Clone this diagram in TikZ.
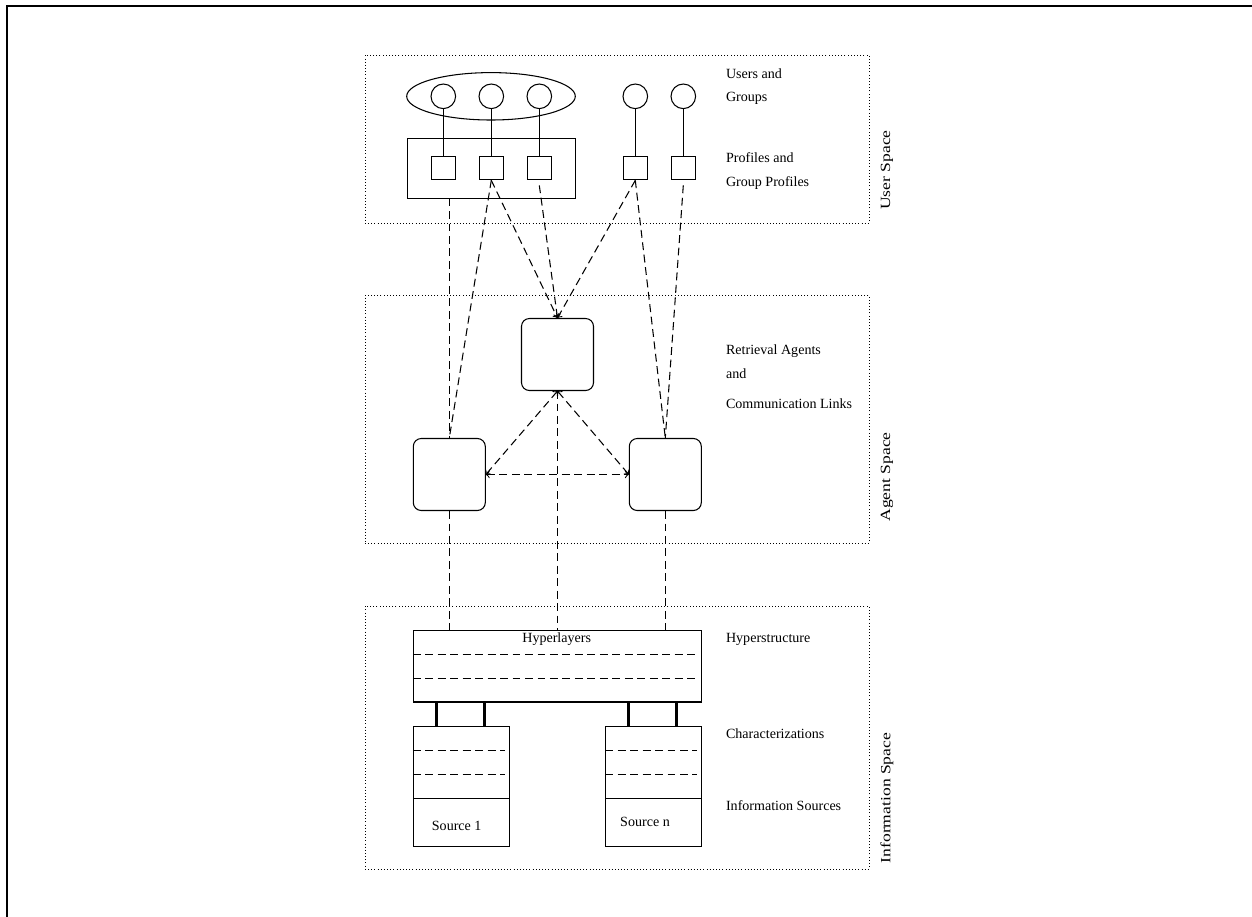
\documentclass[tikz,border=0pt]{standalone}
\usepackage{fontspec}
\setmainfont{Liberation Serif}
\usetikzlibrary{shapes.geometric,calc}
\newcommand\pxu{0.02cm}
\newcommand\sidetext[1]{\scalebox{1.25}[1]{#1}}
\begin{document}
\begin{tikzpicture}[x=0.02cm,y=-0.02cm,
  thin line/.style={line width=0.6pt},
  region/.style={draw,line width=0.5pt,dash pattern=on 0.5pt off 1.3pt,inner sep=0pt},
  person/.style={draw,thin line,circle,minimum size=24.6*\pxu,inner sep=0pt},
  profile/.style={draw,thin line,rectangle,minimum width=24*\pxu,minimum height=23*\pxu,inner sep=0pt},
  agent/.style={draw,thin line,rectangle,rounded corners=4.5pt,minimum width=72*\pxu,minimum height=72*\pxu,inner sep=0pt},
  plainbox/.style={draw,thin line,rectangle,inner sep=0pt},
  link/.style={thin line,dash pattern=on 4.5pt off 2.6pt},
  layer/.style={thin line,dash pattern=on 4.5pt off 2.6pt},
  bar/.style={line width=1.8pt},
  lbl/.style={anchor=base west,inner sep=0pt,font=\fontsize{8}{9.6}\selectfont},
  txt/.style={anchor=base,inner sep=0pt,font=\fontsize{8}{9.6}\selectfont},
  side/.style={rotate=90,inner sep=0pt,font=\fontsize{8}{9.6}\selectfont}
]
\useasboundingbox (0,0) rectangle (1252,917);
% frame
\draw[line width=1.5pt] (7,917) -- (7,6) -- (1252,6);

% regions
\node[region,minimum width=504*\pxu,minimum height=168*\pxu] (userspace) at (617,139) {};
\node[region,minimum width=504*\pxu,minimum height=248*\pxu] (agentspace) at (617,419) {};
\node[region,minimum width=504*\pxu,minimum height=263*\pxu] (infospace) at (617,737.5) {};

\node[side] (luser) at (887,170) {\sidetext{User Space}};
\node[side] (lagent) at (887,477) {\sidetext{Agent Space}};
\node[side] (linfo) at (887,798) {\sidetext{Information Space}};

% users and groups
\node[draw,thin line,ellipse,minimum width=168.6*\pxu,minimum height=47.4*\pxu,inner sep=0pt] (grp) at (491,96.3) {};
\node[person] (c1) at (443.3,96.3) {};
\node[person] (c2) at (491.3,96.3) {};
\node[person] (c3) at (539.3,96.3) {};
\node[person] (c4) at (635.3,96.3) {};
\node[person] (c5) at (683.3,96.3) {};

\node[plainbox,minimum width=167.6*\pxu,minimum height=59.7*\pxu] (prof) at (491.5,168.2) {};
\node[profile] (s1) at (443.3,168.3) {};
\node[profile] (s2) at (491.3,168.3) {};
\node[profile] (s3) at (539.3,168.3) {};
\node[profile] (s4) at (635.3,168.3) {};
\node[profile] (s5) at (683.3,168.3) {};

\foreach \i in {1,...,5} \draw[thin line] (c\i.south) -- (s\i.north);

\node[lbl] (t1) at (725.7,78) {Users and};
\node[lbl] (t2) at (725.7,101.7) {Groups};
\node[lbl] (t3) at (725.7,162.7) {Profiles and};
\node[lbl] (t4) at (725.7,186.7) {Group Profiles};

% agents
\node[agent] (aT) at (557.5,354.5) {};
\node[agent] (aL) at (449.3,474.5) {};
\node[agent] (aR) at (665.3,474.5) {};

\node[lbl] (t5) at (725.7,354) {Retrieval Agents};
\node[lbl] (t6) at (725.7,378.3) {and};
\node[lbl] (t7) at (725.7,408.3) {Communication Links};

% information space
\node[plainbox,minimum width=288*\pxu,minimum height=71.3*\pxu] (hyp) at (557.3,666.35) {};
\node[plainbox,minimum width=96*\pxu,minimum height=72*\pxu] (chL) at (461.3,762.7) {};
\node[plainbox,minimum width=95.6*\pxu,minimum height=72*\pxu] (chR) at (653.5,762.7) {};
\node[plainbox,minimum width=96*\pxu,minimum height=48*\pxu] (srcL) at (461.3,822.7) {};
\node[plainbox,minimum width=95.6*\pxu,minimum height=48*\pxu] (srcR) at (653.5,822.7) {};

\draw[layer] ($(hyp.north west)!0.333!(hyp.south west)$) -- ($(hyp.north east)!0.333!(hyp.south east)+(-4,0)$);
\draw[layer] ($(hyp.north west)!0.667!(hyp.south west)$) -- ($(hyp.north east)!0.667!(hyp.south east)+(-4,0)$);
\draw[layer] ($(chL.north west)!0.333!(chL.south west)$) -- ($(chL.north east)!0.333!(chL.south east)+(-5,0)$);
\draw[layer] ($(chL.north west)!0.667!(chL.south west)$) -- ($(chL.north east)!0.667!(chL.south east)+(-5,0)$);
\draw[layer] ($(chR.north west)!0.333!(chR.south west)$) -- ($(chR.north east)!0.333!(chR.south east)+(-5,0)$);
\draw[layer] ($(chR.north west)!0.667!(chR.south west)$) -- ($(chR.north east)!0.667!(chR.south east)+(-5,0)$);

\node[txt] (thyp) at (556.7,642.7) {Hyperlayers};
\node[txt] (tsrc1) at (456.7,830) {Source 1};
\node[txt] (tsrcn) at (645,826) {Source n};

\coordinate (b1) at ($(chL.north west)+(24,0)$);
\coordinate (b2) at ($(chL.north west)+(72,0)$);
\coordinate (b3) at ($(chR.north west)+(23.6,0)$);
\coordinate (b4) at ($(chR.north west)+(71.6,0)$);
\foreach \b in {b1,b2,b3,b4} \draw[bar] (\b) -- (\b |- hyp.south);

\node[lbl] (t8) at (725.7,642.7) {Hyperstructure};
\node[lbl] (t9) at (725.7,738.3) {Characterizations};
\node[lbl] (t10) at (725.7,810.7) {Information Sources};

% connectors
\draw[link] (aL.north |- prof.south) -- (aL.north);
\draw[link] (s2.south) -- (aL.north);
\draw[link,->] (s2.south) -- (aT.north);
\draw[link,->] ([yshift=-5*\pxu]s3.south) -- (aT.north);
\draw[link,->] (s4.south) -- (aT.north);
\draw[link] (s4.south) -- (aR.north);
\draw[link] ([yshift=-5*\pxu]s5.south) -- (aR.north);

\draw[link,<->] (aT.south) -- (aL.east);
\draw[link,<->] (aT.south) -- (aR.west);
\draw[link,<->] (aL.east) -- (aR.west);

\draw[link] (aT.south) -- (aT.south |- hyp.north);
\draw[link] (aL.south) -- (aL.south |- hyp.north);
\draw[link] (aR.south) -- (aR.south |- hyp.north);
\end{tikzpicture}
\end{document}
